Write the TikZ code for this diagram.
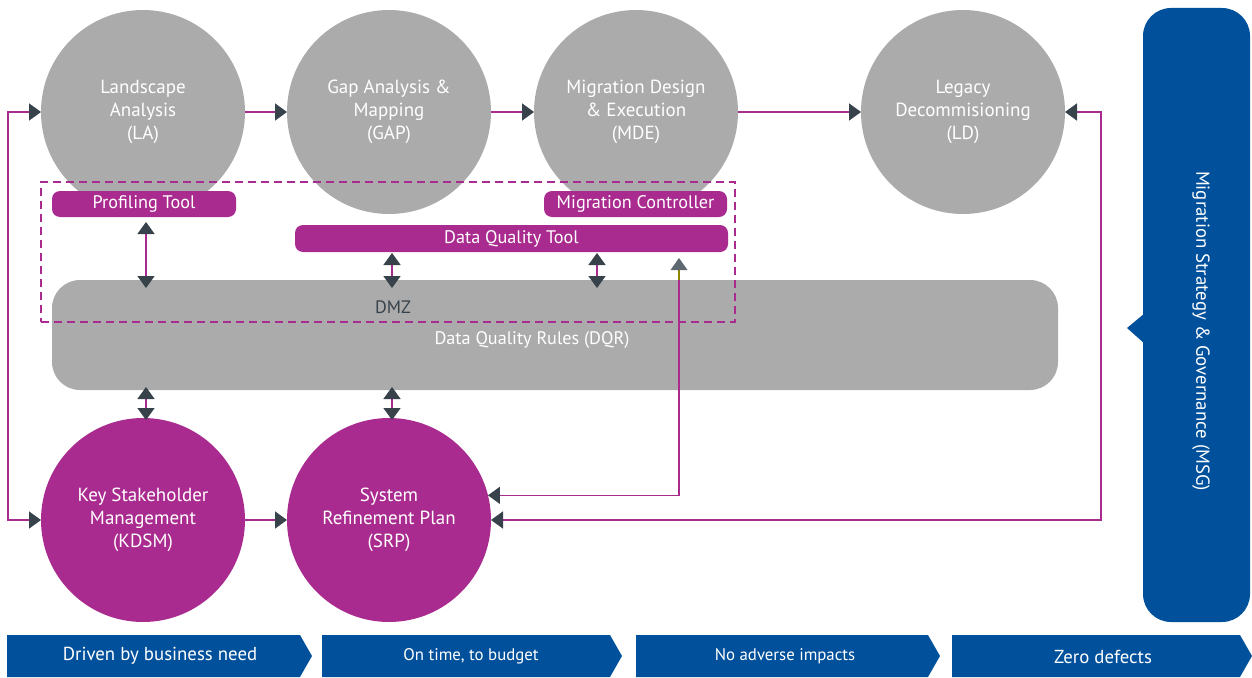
\documentclass[tikz,border=0pt]{standalone}
\usepackage{fontspec}
\setmainfont{PT Sans}
\usetikzlibrary{arrows.meta}
\definecolor{mag}{RGB}{170,43,143}
\definecolor{gr}{RGB}{171,171,171}
\definecolor{blu}{RGB}{0,80,155}
\definecolor{dk}{RGB}{55,66,74}
\definecolor{tipgr}{RGB}{94,104,112}
\begin{document}
\begin{tikzpicture}[x=1pt,y=-1pt,
  bigc/.style={circle, minimum size=204pt, inner sep=0pt, outer sep=0pt, text=white, align=center, font=\fontsize{19}{23}\selectfont},
  greyc/.style={bigc, fill=gr},
  magc/.style={bigc, fill=mag},
  toolbar/.style={fill=mag, rounded corners=8pt, text=white, inner sep=0pt, outer sep=0pt, font=\fontsize{18.2}{20}\selectfont, minimum height=26pt},
  conn/.style={draw=mag, line width=1.6pt},
  arr/.style={conn, -{Triangle[width=17pt,length=12pt,color=dk]}},
  biarrow/.style={conn, {Triangle[width=17pt,length=12pt,color=dk]}-{Triangle[width=17pt,length=12pt,color=dk]}},
  chevtext/.style={text=white, inner sep=0pt},
]
\useasboundingbox (0,0) rectangle (1252,677);

% top circles
\node[greyc] (la)  at (143,112) {Landscape\\Analysis\\(LA)};
\node[greyc] (gap) at (389,112) {Gap Analysis \&\\Mapping\\(GAP)};
\node[greyc] (mde) at (636,112) {Migration Design\\\& Execution\\(MDE)};
\node[greyc] (ld)  at (963,112) {Legacy\\Decommisioning\\(LD)};
% bottom circles
\node[magc] (kdsm) at (143,520) {Key Stakeholder\\Management\\(KDSM)};
\node[magc] (srp)  at (389,520) {System\\Refinement Plan\\(SRP)};

% data quality rules
\node[fill=gr, rounded corners=28pt, minimum width=1006pt, minimum height=110pt, inner sep=0pt, outer sep=0pt] (dqr) at (555,335) {};
\node[text=white, font=\fontsize{18.2}{20}\selectfont] (dqrt) at (532,340) {Data Quality Rules (DQR)};
\node[text=dk, font=\fontsize{18}{20}\selectfont] (dmz) at (393,307) {DMZ};

% tool bars
\node[toolbar, minimum width=184pt] (pt) at (144,204) {Profiling Tool};
\node[toolbar, minimum width=183pt] (mc) at (635.5,204) {Migration Controller};
\node[toolbar, minimum width=433pt, minimum height=27pt] (dqt) at (511.5,238.5) {Data Quality Tool};

% dashed boundary
\node[draw=mag, dashed, dash pattern=on 8pt off 5pt, line width=1.3pt, minimum width=694pt, minimum height=140pt, inner sep=0pt, outer sep=0pt] (dmzbox) at (388,252) {};

% MSG
\node[fill=blu, rounded corners=28pt, minimum width=107pt, minimum height=614pt, inner sep=0pt, outer sep=0pt] (msg) at (1196.5,315) {};
\fill[blu] (1145,313) -- (1127,328) -- (1145,344) -- cycle;
\node[rotate=-90, text=white, font=\fontsize{18.8}{20}\selectfont] (msgt) at (1201,331) {Migration Strategy \& Governance (MSG)};

% helper coordinates
\coordinate (lt) at (8,112);
\coordinate (lb) at (8,520);
\coordinate (rt) at (1101,112);
\coordinate (rb) at (1101,520);
\coordinate (x146) at (146,0);
\coordinate (x392) at (392,0);
\coordinate (x597) at (597,0);
\coordinate (x679) at (679,0);

% connectors
\draw[arr] (la.east) -- (gap.west);
\draw[arr] (gap.east) -- (mde.west);
\draw[arr] (mde.east) -- (ld.west);
\draw[arr] (kdsm.east) -- (srp.west);
\draw[biarrow] (la.west) -- (lt) -- (lb) -- (kdsm.west);
\draw[biarrow] (ld.east) -- (rt) -- (rb) -- (srp.east);
\draw[conn, {Triangle[width=17pt,length=12pt,color=dk]}-, shorten >=28pt] (srp.14.77) -| (dqt.south -| x679);
\draw[draw=olive, line width=1.6pt] (dqt.south -| x679) ++(0,17) -- (dqr.north -| x679);
\fill[tipgr] (dqt.south -| x679) ++(0,6) -- ++(8.5,12) -- ++(-17,0) -- cycle;

\draw[biarrow, shorten <=5pt, shorten >=-8pt] (pt.south -| x146) -- (dqr.north -| x146);
\draw[biarrow, shorten <=1pt, shorten >=-8pt] (dqt.south -| x392) -- (dqr.north -| x392);
\draw[biarrow, shorten <=1pt, shorten >=-8pt] (dqt.south -| x597) -- (dqr.north -| x597);
\draw[biarrow, shorten <=-3pt, shorten >=-2pt] (dqr.south -| x146) -- (kdsm.north -| x146);
\draw[biarrow, shorten <=-3pt, shorten >=-2pt] (dqr.south -| x392) -- (srp.north -| x392);

% chevrons
\fill[blu] (7,635) -- (300,635) -- (312,656) -- (300,677) -- (7,677) -- cycle;
\node[chevtext, font=\fontsize{18.8}{20}\selectfont] (c1) at (160,656) {Driven by business need};
\fill[blu] (322,635) -- (610,635) -- (622,656) -- (610,677) -- (322,677) -- cycle;
\node[chevtext, font=\fontsize{16.8}{18}\selectfont] (c2) at (471,656) {On time, to budget};
\fill[blu] (636,635) -- (928,635) -- (940,656) -- (928,677) -- (636,677) -- cycle;
\node[chevtext, font=\fontsize{16.8}{18}\selectfont] (c3) at (785,656) {No adverse impacts};
\fill[blu] (952,635) -- (1240,635) -- (1252,656) -- (1240,677) -- (952,677) -- cycle;
\node[chevtext, font=\fontsize{18.8}{20}\selectfont] (c4) at (1103,657) {Zero defects};
\end{tikzpicture}
\end{document}
